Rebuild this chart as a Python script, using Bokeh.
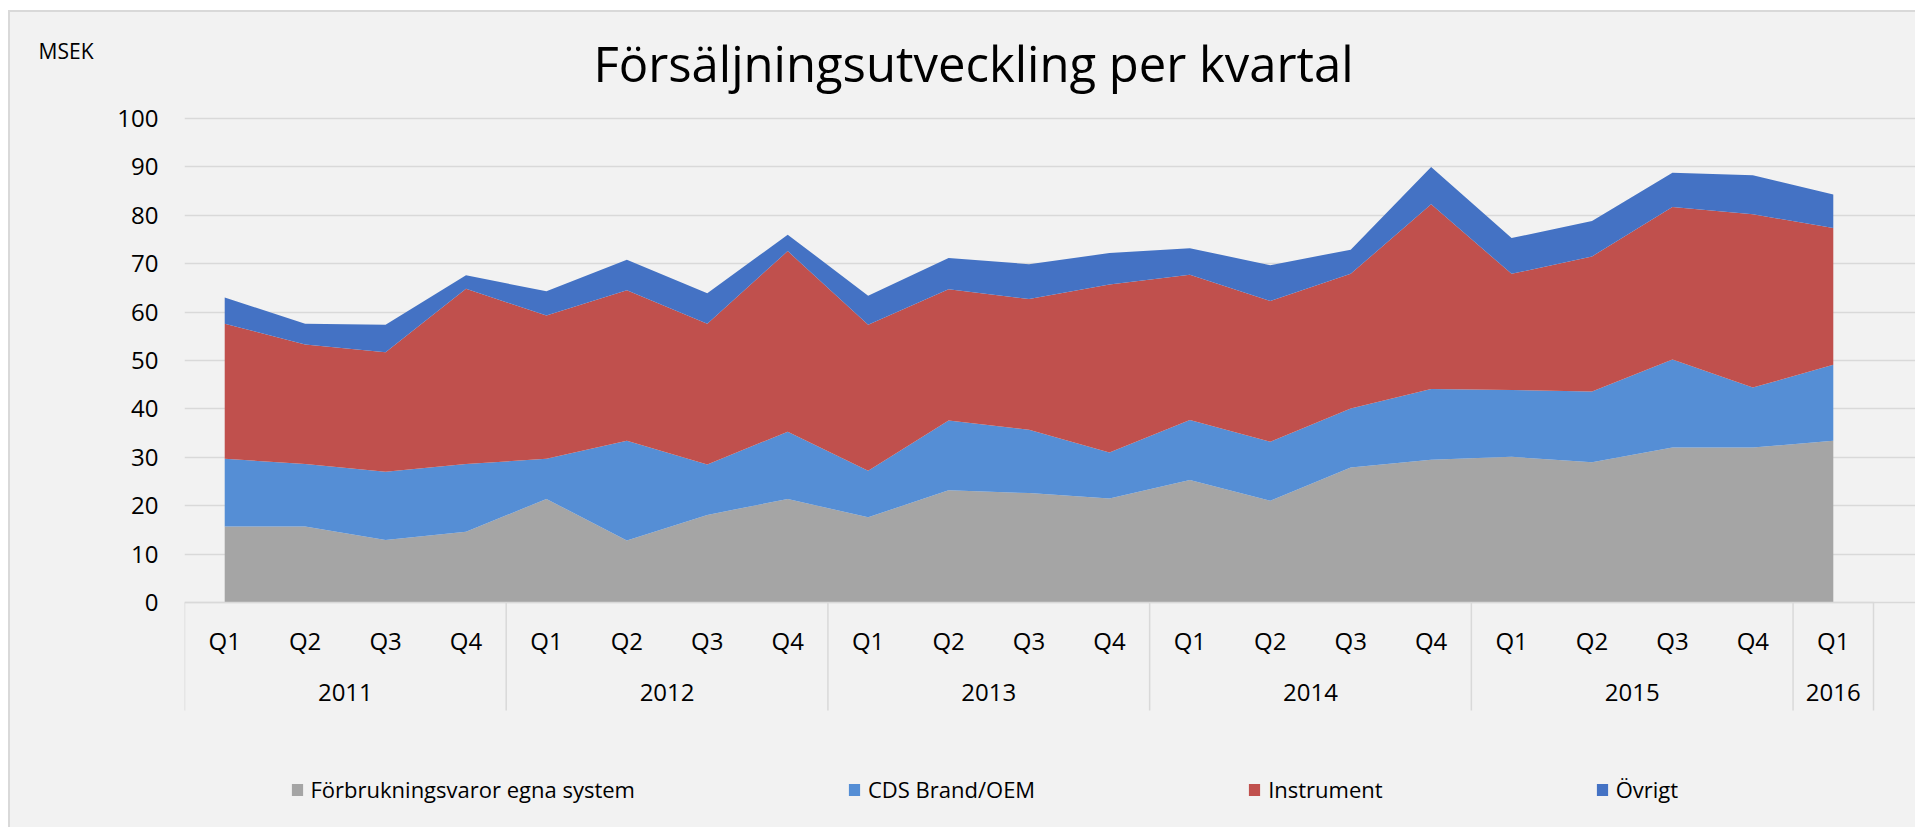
from bokeh.plotting import figure
from bokeh.models import (ColumnDataSource, Range1d, LinearAxis, FixedTicker,
                          Legend, LegendItem, Label)
from bokeh.core.properties import value
from bokeh.embed import file_html
from bokeh.resources import INLINE

# ---- data -------------------------------------------------------------
years = ["2011"] * 4 + ["2012"] * 4 + ["2013"] * 4 + ["2014"] * 4 + ["2015"] * 4 + ["2016"]
quarters = ["Q1", "Q2", "Q3", "Q4"] * 5 + ["Q1"]

forbrukning = [15.7, 15.7, 12.9, 14.6, 21.4, 12.8, 18.1, 21.4, 17.6, 23.2, 22.6,
               21.5, 25.3, 21.0, 27.9, 29.5, 30.1, 29.0, 32.0, 32.0, 33.4]
cds_brand = [14.0, 12.9, 14.1, 14.0, 8.3, 20.6, 10.4, 13.9, 9.6, 14.4, 13.1,
             9.5, 12.4, 12.2, 12.2, 14.6, 13.8, 14.6, 18.2, 12.4, 15.7]
instrument = [27.9, 24.7, 24.7, 36.2, 29.6, 31.1, 29.1, 37.3, 30.2, 27.1, 27.0,
              34.7, 30.0, 29.1, 27.8, 38.2, 24.0, 27.9, 31.5, 35.8, 28.3]
ovrigt = [5.4, 4.3, 5.7, 2.8, 5.0, 6.3, 6.3, 3.4, 6.0, 6.5, 7.2,
          6.5, 5.5, 7.4, 5.0, 7.7, 7.4, 7.3, 7.1, 8.1, 6.9]

series_labels = ["Förbrukningsvaror egna system", "CDS Brand/OEM", "Instrument", "Övrigt"]
series_keys = ["forb", "cds", "instr", "ovr"]
colors = ["#A5A5A5", "#558ED5", "#C0504D", "#4472C4"]
y_ticks = list(range(0, 101, 10))

title_text = "Försäljningsutveckling per kvartal"
unit_text = "MSEK"

# ---- layout constants (window pixels) -------------------------------------
WIN_W, WIN_H = 1917, 829
ORIGIN_X, ORIGIN_Y = 10, 12           # where the chart canvas starts (inside its border)
W, H = WIN_W - ORIGIN_X, WIN_H - ORIGIN_Y
PLOT_LEFT, PLOT_RIGHT = 184, 1873     # category area, left/right edges
Y0_PX, Y100_PX = 602, 118             # pixel rows of 0 and 100
Q_OFF, YEAR_OFF, SEP_LEN = 38, 90, 108  # label rows / separator length below the axis
FONT = "Open Sans"
GRID = "#D9D9D9"
BG = "#F2F2F2"
TXT = "#000000"

# ---- derived --------------------------------------------------------------
n = len(quarters)
xs = list(range(n))
px_per_cat = (PLOT_RIGHT - PLOT_LEFT) / n
px_per_unit = (Y0_PX - Y100_PX) / 100.0
x_start = -0.5
x_end = x_start + (WIN_W - PLOT_LEFT) / px_per_cat
y_top = (Y0_PX - ORIGIN_Y) / px_per_unit
y_bottom = -(WIN_H - Y0_PX) / px_per_unit

source = ColumnDataSource(dict(x=xs, forb=forbrukning, cds=cds_brand,
                               instr=instrument, ovr=ovrigt))

boundaries = [-0.5]
for i in range(1, n):
    if years[i] != years[i - 1]:
        boundaries.append(i - 0.5)
boundaries.append(n - 0.5)

year_names, year_centers = [], []
for y in dict.fromkeys(years):
    idx = [i for i, yy in enumerate(years) if yy == y]
    year_names.append(y)
    year_centers.append(sum(idx) / len(idx))

unit_pos = round((Y0_PX - 50) / px_per_unit)   # level of the "MSEK" caption

p = figure(width=W, height=H, output_backend="svg", toolbar_location=None,
           x_range=Range1d(x_start, x_end), y_range=Range1d(y_bottom, y_top),
           x_axis_location=None, y_axis_location="left",
           min_border_left=PLOT_LEFT - ORIGIN_X, min_border_right=0,
           min_border_top=0, min_border_bottom=0)
p.styles = {"margin-left": "8px", "margin-top": "10px", "background-color": BG,
            "border-left": "2px solid #D9D9D9", "border-top": "2px solid #D9D9D9"}
p.background_fill_color = None
p.border_fill_color = None
p.outline_line_color = None
p.xgrid.visible = False

renderers = p.varea_stack(stackers=series_keys, x="x", color=colors, source=source)

# y axis
ya = p.yaxis[0]
ya.ticker = FixedTicker(ticks=y_ticks, minor_ticks=[])
ya.axis_line_color = None
ya.major_tick_line_color = None
ya.minor_tick_line_color = None
ya.major_tick_out = 0
ya.minor_tick_out = 0
ya.major_label_standoff = 26
ya.major_label_text_font = FONT
ya.major_label_text_font_size = "24px"
ya.major_label_text_color = TXT

p.ygrid.ticker = FixedTicker(ticks=y_ticks, minor_ticks=[])
p.ygrid.grid_line_color = GRID
p.ygrid.grid_line_width = 1.5
p.ygrid.bounds = (boundaries[0], boundaries[-1])

# unit caption: a second left axis with one labelled tick
ua = LinearAxis(ticker=FixedTicker(ticks=[unit_pos], minor_ticks=[]),
                major_label_overrides={unit_pos: unit_text})
ua.axis_line_color = None
ua.major_tick_line_color = None
ua.minor_tick_line_color = None
ua.major_tick_out = 0
ua.minor_tick_out = 0
ua.major_label_standoff = 21
ua.major_label_text_font = FONT
ua.major_label_text_font_size = "21px"
ua.major_label_text_color = TXT
p.add_layout(ua, "left")

# category axis: line, year separators, quarter and year labels
p.segment(x0=[boundaries[0]], x1=[boundaries[-1]], y0=[0], y1=[0],
          line_color=GRID, line_width=1.5)
sep_bottom = -SEP_LEN / px_per_unit
p.segment(x0=boundaries, x1=boundaries, y0=[0] * len(boundaries),
          y1=[sep_bottom] * len(boundaries), line_color=GRID, line_width=1.5)
p.text(x=xs, y=[-Q_OFF / px_per_unit] * n, text=quarters,
       text_font=value(FONT), text_font_size="24px", text_color=TXT,
       text_align="center", text_baseline="middle")
p.text(x=year_centers, y=[-YEAR_OFF / px_per_unit] * len(year_centers), text=year_names,
       text_font=value(FONT), text_font_size="24px", text_color=TXT,
       text_align="center", text_baseline="middle")

# title
p.add_layout(Label(x=973 - PLOT_LEFT, y=WIN_H - 62, x_units="screen", y_units="screen",
                   text=title_text, text_font=FONT, text_font_size="49px",
                   text_color=TXT, text_align="center", text_baseline="alphabetic"))

# legend
legend = Legend(items=[LegendItem(label=lab, renderers=[r])
                       for lab, r in zip(series_labels, renderers)],
                location=(105.5, 25), orientation="horizontal",
                glyph_width=14, glyph_height=15, label_standoff=7,
                padding=0, margin=0, spacing=212,
                background_fill_alpha=0, border_line_color=None,
                label_text_font=FONT, label_text_font_size="22px",
                label_text_color=TXT, label_height=15)
p.add_layout(legend, "center")

open("out.html", "w").write(file_html(p, INLINE))
